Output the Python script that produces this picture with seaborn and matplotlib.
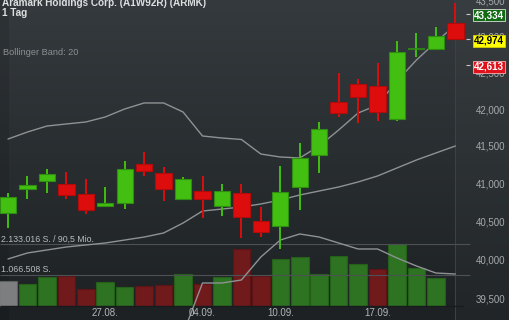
import numpy as np
import pandas as pd
import matplotlib
matplotlib.use("Agg")
import matplotlib.pyplot as plt
import matplotlib.transforms as mtransforms
from matplotlib.patches import Rectangle
import seaborn as sns

# ---------------- data ----------------
title = "Aramark Holdings Corp. (A1W92R) (ARMK)"
subtitle = "1 Tag"
indicator = "Bollinger Band: 20"

opens  = [40619, 40936, 41043, 41003, 40870, 40711, 40751, 41270, 41150, 40804, 40910, 40711,
          40883, 40513, 40448, 40963, 41391, 42109, 42356, 42329, 41877, 42835, 42840, 43203]
highs  = [40883, 41110, 41203, 41163, 41070, 40963, 41310, 41431, 41230, 41090, 41110, 41003,
          41003, 40698, 41243, 41552, 41837, 42508, 42425, 42646, 42952, 43063, 43147, 43480]
lows   = [40421, 40804, 40883, 40804, 40606, 40698, 40671, 41110, 40777, 40790, 40553, 40579,
          40290, 40303, 40147, 40658, 41150, 41905, 41823, 41850, 41850, 42729, 42826, 42974]
closes = [40830, 40990, 41136, 40857, 40658, 40751, 41203, 41176, 40936, 41070, 40804, 40910,
          40566, 40369, 40897, 41351, 41742, 41959, 42178, 41973, 42798, 42845, 43021, 42974]

volumes = [860000, 760000, 1000000, 1040000, 580000, 810000, 640000, 690000, 720000, 1090000,
           740000, 990000, 1970000, 1030000, 1640000, 1710000, 1090000, 1730000, 1450000,
           1270000, 2133016, 1300000, 960000]

bb_upper  = [41606, 41701, 41782, 41810, 41837, 41905, 42014, 42096, 42096, 41973, 41647, 41620,
             41600, 41404, 41364, 41351, 41512, 41728, 41959, 42068, 42397, 42687, 42938, 43175]
bb_middle = [40017, 40095, 40134, 40173, 40199, 40225, 40264, 40303, 40356, 40487, 40645, 40671,
             40698, 40738, 40790, 40857, 40910, 40963, 41030, 41110, 41217, 41324, 41418, 41512]
bb_lower  = [38487, 38550, 38550, 38600, 38625, 38613, 38588, 38588, 38688, 39054, 39706, 39706,
             39745, 40043, 40264, 40343, 40303, 40225, 40147, 40147, 40030, 39926, 39835, 39822]

price_ticks = [39500, 40000, 40500, 41000, 41500, 42000, 42500, 43000, 43500]
date_labels = ["27.08.", "04.09.", "10.09.", "17.09."]
date_pos = [5, 10, 14, 19]
vol_levels = [2133016, 1066508]
vol_level_labels = ["2.133.016 S. / 90,5 Mio.", "1.066.508 S."]
marker_values = [43334, 42974, 42613]
marker_styles = [("#126b14", "#d8e0d8", "white"), ("#ffff00", "#d0d000", "black"),
                 ("#e0121c", "#f2b0b0", "white")]

# ---------------- style ----------------
sns.set_theme(style="dark")
plt.rcParams['font.family'] = ['Liberation Sans', 'DejaVu Sans']

W, H = 510, 320
fig = plt.figure(figsize=(W / 100, H / 100), dpi=100)

# background gradient
bg = fig.add_axes([0, 0, 1, 1], zorder=0)
top = np.array([0x34, 0x3a, 0x3d]) / 255
bot = np.array([0x1d, 0x21, 0x24]) / 255
t = np.linspace(0, 1, 256)[:, None]
grad = top[None, :] * (1 - t) + bot[None, :] * t
bg.imshow(grad[:, None, :], aspect='auto', extent=[0, 1, 0, 1], origin='upper')
bg.add_patch(Rectangle((0, 0), 9 / W, 1, color='black', alpha=0.10, lw=0))
bg.add_patch(Rectangle((455 / W, 0), 1, 1, color='white', alpha=0.02, lw=0))
bg.axvline(455 / W, color='#3c4245', lw=0.7)
bg.set_xlim(0, 1); bg.set_ylim(0, 1)
bg.set_axis_off()

n = len(opens)
idx = np.arange(n)
xlim = (-8 / 19.45, (W - 8) / 19.45)

# ---------------- volume axes ----------------
axv = fig.add_axes([0, 0, 1, 1], zorder=1)
axv.patch.set_alpha(0)
vcat = ["flat"] + ["up" if closes[i] >= closes[i - 1] else "down" for i in range(1, len(volumes))]
vdf = pd.DataFrame({"i": idx[:len(volumes)], "vol": volumes, "cat": vcat})
vface = {"flat": "#7c7e7f", "up": "#2e7321", "down": "#711a1c"}
vedge = {"flat": "#5e6062", "up": "#24601a", "down": "#5a1416"}
sns.barplot(data=vdf, x="i", y="vol", hue="cat", palette=vface, native_scale=True,
            dodge=False, width=0.9, errorbar=None, legend=False, ax=axv, saturation=1)
inv = {matplotlib.colors.to_hex(v): k for k, v in vface.items()}
for p in axv.patches:
    k = inv.get(matplotlib.colors.to_hex(p.get_facecolor()))
    if k:
        p.set_edgecolor(vedge[k]); p.set_linewidth(0.8)
axv.hlines(vol_levels, xlim[0], (470 - 8) / 19.45, color='#4c5154', lw=0.8)
axv.hlines(0, xlim[0], (463 - 8) / 19.45, color='#181b1d', lw=1.0)
axv.set_xlim(*xlim)
axv.set_ylim(-14.5 / 28.6 * 1e6, 305.5 / 28.6 * 1e6)
axv.set_axis_off()
tv = mtransforms.offset_copy(mtransforms.blended_transform_factory(axv.transAxes, axv.transData),
                             fig=fig, y=2.5, units='dots')
for lv, lab in zip(vol_levels, vol_level_labels):
    axv.text(1 / W, lv, lab, transform=tv, ha='left', va='baseline',
             fontsize=6.3, color='#b8bcbe')

# ---------------- price axes ----------------
ax = fig.add_axes([0, 0, 1, 1], zorder=2)
ax.patch.set_alpha(0)
ax.set_yscale('log')
ax.set_xlim(*xlim)
ax.set_ylim(39232, 43527)

for band in (bb_upper, bb_middle, bb_lower):
    sns.lineplot(x=idx, y=band, ax=ax, color='#8e9294', lw=1.0)

g_face, g_edge = '#42bf10', '#2f8e12'
r_face, r_edge = '#dd0d0d', '#b00c0c'
for i in range(n):
    o, h, l, c = opens[i], highs[i], lows[i], closes[i]
    up = c >= o
    fc, ec = (g_face, g_edge) if up else (r_face, r_edge)
    ax.vlines(i, l, h, color=fc, lw=1.4, zorder=3)
    b0, b1 = min(o, c), max(o, c)
    if b1 - b0 < 12:
        ax.hlines((o + c) / 2, i - 0.43, i + 0.43, color=ec, lw=1.2, zorder=4)
    else:
        ax.bar(i, b1 - b0, bottom=b0, width=0.84, color=fc, edgecolor=ec, lw=0.8, zorder=4)

ax.set_axis_off()

ty = mtransforms.blended_transform_factory(ax.transAxes, ax.transData)
for p in price_ticks:
    ax.text(505 / W, p, f"{p:,}", transform=ty, ha='right', va='center',
            fontsize=7, color='#a6aaac', zorder=5)

tm = mtransforms.offset_copy(ty, fig=fig, y=-1.5, units='dots')
for val, (fc, ec, tc) in zip(marker_values, marker_styles):
    ax.hlines(val, (466 - 8) / 19.45, (470 - 8) / 19.45, color='#c4c8ca', lw=0.8, zorder=6)
    ax.text(489 / W, val, f"{val:,}", transform=tm, ha='center', va='center',
            fontsize=7, fontweight='bold', color=tc, zorder=7,
            bbox=dict(boxstyle='square,pad=0.12', fc=fc, ec=ec, lw=0.6))

tx = mtransforms.blended_transform_factory(ax.transData, ax.transAxes)
for pos, lab in zip(date_pos, date_labels):
    ax.text(pos, 1 - 313 / H, lab, transform=tx, ha='center', va='center',
            fontsize=7, color='#b3b7b9', zorder=5)

# ---------------- header text ----------------
fig.text(2 / W, 1 - 6.5 / H, title, ha='left', va='baseline', fontsize=7.2,
         fontweight='bold', color='#dcdfe0')
fig.text(2 / W, 1 - 15.5 / H, subtitle, ha='left', va='baseline', fontsize=7.2,
         fontweight='bold', color='#dcdfe0')
fig.text(3 / W, 1 - 55 / H, indicator, ha='left', va='baseline', fontsize=6.6,
         color='#8b9093')

fig.savefig("out.png", dpi=100)
